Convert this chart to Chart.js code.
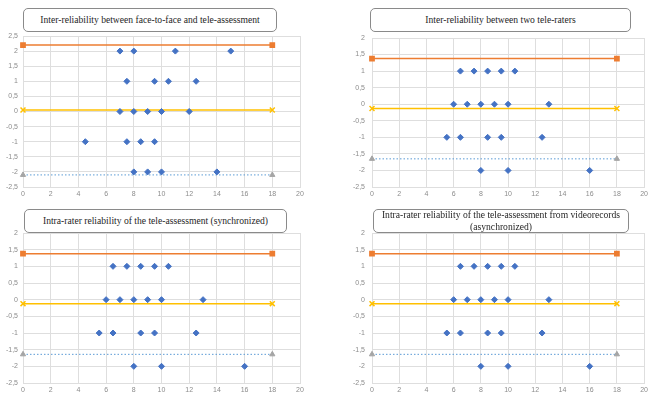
<!DOCTYPE html>
<html>
<head>
<meta charset="utf-8">
<script src="https://cdn.jsdelivr.net/npm/chart.js@4.4.1/dist/chart.umd.min.js"></script>
<style>
  html, body { margin: 0; padding: 0; background: #ffffff; }
  body { width: 651px; height: 397px; position: relative; overflow: hidden; }
  canvas { position: absolute; }
  .title {
    position: absolute; box-sizing: border-box;
    border: 1px solid #8a8a8a; border-radius: 5px; background: #ffffff;
    font-family: "Liberation Serif", "DejaVu Serif", serif; font-size: 9.6px;
    color: #262626; text-align: center; display: flex; align-items: center; justify-content: center;
    line-height: 12px; white-space: nowrap;
  }
</style>
</head>
<body>
<canvas id="c1" width="325" height="200" style="left:0;top:0"></canvas>
<canvas id="c2" width="326" height="200" style="left:325px;top:0"></canvas>
<canvas id="c3" width="325" height="202" style="left:0;top:195px"></canvas>
<canvas id="c4" width="326" height="202" style="left:325px;top:195px"></canvas>

<div class="title" style="left:23px;top:8px;width:254px;height:24px">Inter-reliability between face-to-face and tele-assessment</div>
<div class="title" style="left:370px;top:8px;width:261px;height:24px">Inter-reliability between two tele-raters</div>
<div class="title" style="left:24px;top:209px;width:263px;height:24px">Intra-rater reliability of the tele-assessment (synchronized)</div>
<div class="title" style="left:373px;top:209px;width:256px;height:24px">Intra-rater reliability of the tele-assessment from videorecords<br>(asynchronized)</div>

<script>
// Differences plotted against the mean score, one panel per comparison
const faceX = [7, 8, 11, 15, 7.5, 9.5, 10.5, 12.5, 7, 8, 9, 10, 12, 4.5, 7.5, 8.5, 9.5, 8, 9, 10, 14];
const faceY = [2, 2, 2, 2, 1, 1, 1, 1, 0, 0, 0, 0, 0, -1, -1, -1, -1, -2, -2, -2, -2];
const faceLimits = { upper: 2.2, mean: 0.05, lower: -2.1 };

const ratersX = [6.5, 7.5, 8.5, 9.5, 10.5, 6, 7, 8, 9, 10, 13, 5.5, 6.5, 8.5, 9.5, 12.5, 8, 10, 16];
const ratersY = [1, 1, 1, 1, 1, 0, 0, 0, 0, 0, 0, -1, -1, -1, -1, -1, -2, -2, -2];
const ratersLimits = { upper: 1.38, mean: -0.13, lower: -1.65 };

const syncX = [6.5, 7.5, 8.5, 9.5, 10.5, 6, 7, 8, 9, 10, 13, 5.5, 6.5, 8.5, 9.5, 12.5, 8, 10, 16];
const syncY = [1, 1, 1, 1, 1, 0, 0, 0, 0, 0, 0, -1, -1, -1, -1, -1, -2, -2, -2];
const syncLimits = { upper: 1.38, mean: -0.12, lower: -1.64 };

const asyncX = [6.5, 7.5, 8.5, 9.5, 10.5, 6, 7, 8, 9, 10, 13, 5.5, 6.5, 8.5, 9.5, 12.5, 8, 10, 16];
const asyncY = [1, 1, 1, 1, 1, 0, 0, 0, 0, 0, 0, -1, -1, -1, -1, -1, -2, -2, -2];
const asyncLimits = { upper: 1.38, mean: -0.12, lower: -1.64 };

const limitSpan = [0, 18];          // x extent of the agreement lines
const xTickRange = { min: 0, max: 20, step: 2 };

const GRID = '#dedede';
const TICK = '#8c8c8c';

function pts(xs, ys) { return xs.map((x, i) => ({ x: x, y: ys[i] })); }
function hline(v) { return limitSpan.map(x => ({ x: x, y: v })); }
function comma(v) { return String(v).replace('.', ','); }

function makeChart(id, xs, ys, lim, yMax, yMin, box) {
  new Chart(document.getElementById(id), {
    type: 'scatter',
    data: {
      datasets: [
        { data: hline(lim.upper), showLine: true, borderColor: '#ED7D31', backgroundColor: '#ED7D31',
          borderWidth: 1.5, pointStyle: 'rect', pointRadius: 3, clip: false, order: 3 },
        { data: hline(lim.mean), showLine: true, borderColor: '#FFC000', backgroundColor: '#FFC000',
          borderWidth: 1.5, pointStyle: 'crossRot', pointRadius: 3.5, pointBorderWidth: 1.5, clip: false, order: 3 },
        { data: hline(lim.lower), showLine: true, borderColor: '#5B9BD5', backgroundColor: '#A5A5A5',
          borderWidth: 1, borderDash: [1.5, 2], pointStyle: 'triangle', pointRadius: 3,
          pointBorderColor: '#A5A5A5', clip: false, order: 3 },
        { data: pts(xs, ys), showLine: false, backgroundColor: '#4472C4', borderColor: '#4472C4',
          pointStyle: 'rectRot', pointRadius: 3, order: 1 }
      ]
    },
    options: {
      responsive: false, animation: false,
      layout: { padding: { left: 0, top: box.top, right: box.right, bottom: 0 } },
      plugins: { legend: { display: false }, tooltip: { enabled: false } },
      scales: {
        x: {
          type: 'linear', min: xTickRange.min, max: xTickRange.max,
          ticks: { stepSize: xTickRange.step, color: TICK, font: { family: 'Liberation Sans', size: 7 }, padding: 3, maxRotation: 0 },
          grid: { color: GRID, drawTicks: false }, border: { color: GRID },
          afterFit: s => { s.height = box.xh; }
        },
        y: {
          type: 'linear', min: yMin, max: yMax,
          ticks: { stepSize: 0.5, color: TICK, font: { family: 'Liberation Sans', size: 7 }, padding: box.ypad,
                   callback: v => comma(v) },
          grid: { color: GRID, drawTicks: false }, border: { color: GRID },
          afterFit: s => { s.width = box.yw; }
        }
      }
    }
  });
}

makeChart('c1', faceX, faceY, faceLimits, 2.5, -2.5, { top: 36, right: 25, xh: 13, yw: 23, ypad: 5 });
makeChart('c2', ratersX, ratersY, ratersLimits, 2, -2.5, { top: 38, right: 4, xh: 13, yw: 47, ypad: 7 });
makeChart('c3', syncX, syncY, syncLimits, 2, -2.5, { top: 38, right: 25, xh: 14, yw: 23, ypad: 5 });
makeChart('c4', asyncX, asyncY, asyncLimits, 2, -2.5, { top: 38, right: 4, xh: 14, yw: 47, ypad: 7 });
</script>
</body>
</html>
